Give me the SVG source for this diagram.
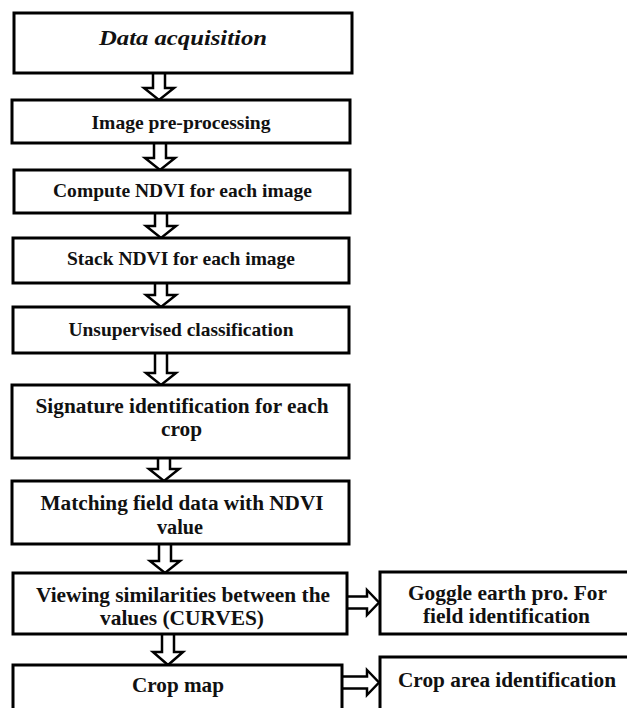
<svg xmlns="http://www.w3.org/2000/svg" width="627" height="708" viewBox="0 0 627 708">
<style>
.box{fill:#fff;stroke:#000;stroke-width:3}
.arr{fill:#fff;stroke:#000;stroke-width:2.5;stroke-linejoin:miter}
.t19{font-size:19px}.t20{font-size:20px}.t22{font-size:22px}
.ti{font-size:21px;font-style:italic}
</style>
<rect width="627" height="708" fill="#fff"/>
<g id="connectors">
<path class="arr" d="M153,73 V88 H144 L159,100 L174,88 H165 V73"/>
<path class="arr" d="M154,143 V158 H145 L160,170 L175,158 H166 V143"/>
<path class="arr" d="M155,213 V226 H146 L161,238 L176,226 H167 V213"/>
<path class="arr" d="M155,283 V295 H146 L161,307 L176,295 H167 V283"/>
<path class="arr" d="M155,353 V373 H146 L161,385 L176,373 H167 V353"/>
<path class="arr" d="M158,458 V469 H149 L164,481 L179,469 H170 V458"/>
<path class="arr" d="M159,544 V561 H150 L165,573 L180,561 H171 V544"/>
<path class="arr" d="M162,634 V652 H153 L168,665 L183,652 H174 V634"/>
<path class="arr" d="M347,596.5 H367 V590 L379,602.5 L367,615 V608.5 H347"/>
<path class="arr" d="M342,676.5 H367 V670 L379,682.5 L367,695 V688.5 H342"/>
</g>
<g font-family="Liberation Serif, serif" font-weight="bold" fill="#111" text-anchor="middle">
<g id="n1"><rect class="box" x="14" y="13" width="338" height="60"/><text class="ti" x="183" y="44.5" textLength="168" lengthAdjust="spacingAndGlyphs">Data acquisition</text></g>
<g id="n2"><rect class="box" x="12" y="100" width="338" height="43"/><text class="t19" x="181" y="129" textLength="179" lengthAdjust="spacingAndGlyphs">Image pre-processing</text></g>
<g id="n3"><rect class="box" x="14" y="170" width="336" height="43"/><text class="t19" x="182.5" y="197" textLength="259" lengthAdjust="spacingAndGlyphs">Compute NDVI for each image</text></g>
<g id="n4"><rect class="box" x="13" y="238" width="336" height="45"/><text class="t19" x="181" y="265" textLength="228" lengthAdjust="spacingAndGlyphs">Stack NDVI for each image</text></g>
<g id="n5"><rect class="box" x="13" y="307" width="336" height="46"/><text class="t19" x="181" y="336" textLength="225" lengthAdjust="spacingAndGlyphs">Unsupervised classification</text></g>
<g id="n6"><rect class="box" x="12" y="385" width="337" height="73"/><text class="t20" x="182" y="413" textLength="293" lengthAdjust="spacingAndGlyphs">Signature identification for each</text><text class="t20" x="181.5" y="436" textLength="41" lengthAdjust="spacingAndGlyphs">crop</text></g>
<g id="n7"><rect class="box" x="12" y="481" width="337" height="63"/><text class="t20" x="182" y="510" textLength="283" lengthAdjust="spacingAndGlyphs">Matching field data with NDVI</text><text class="t20" x="180" y="534" textLength="46" lengthAdjust="spacingAndGlyphs">value</text></g>
<g id="n8"><rect class="box" x="13" y="573" width="334" height="61"/><text class="t22" x="183" y="601.5" textLength="294" lengthAdjust="spacingAndGlyphs">Viewing similarities between the</text><text class="t22" x="182" y="625" textLength="164" lengthAdjust="spacingAndGlyphs">values (CURVES)</text></g>
<g id="n9"><rect class="box" x="13" y="665" width="329" height="60"/><text class="t22" x="178" y="691.5" textLength="92" lengthAdjust="spacingAndGlyphs">Crop map</text></g>
<g id="n10"><rect class="box" x="380" y="572" width="260" height="62"/><text class="t22" x="507.5" y="600" textLength="199" lengthAdjust="spacingAndGlyphs">Goggle earth pro. For</text><text class="t22" x="506.5" y="623" textLength="167" lengthAdjust="spacingAndGlyphs">field identification</text></g>
<g id="n11"><rect class="box" x="380" y="657" width="260" height="70"/><text class="t22" x="507" y="687" textLength="218" lengthAdjust="spacingAndGlyphs">Crop area identification</text></g>
</g>
</svg>
